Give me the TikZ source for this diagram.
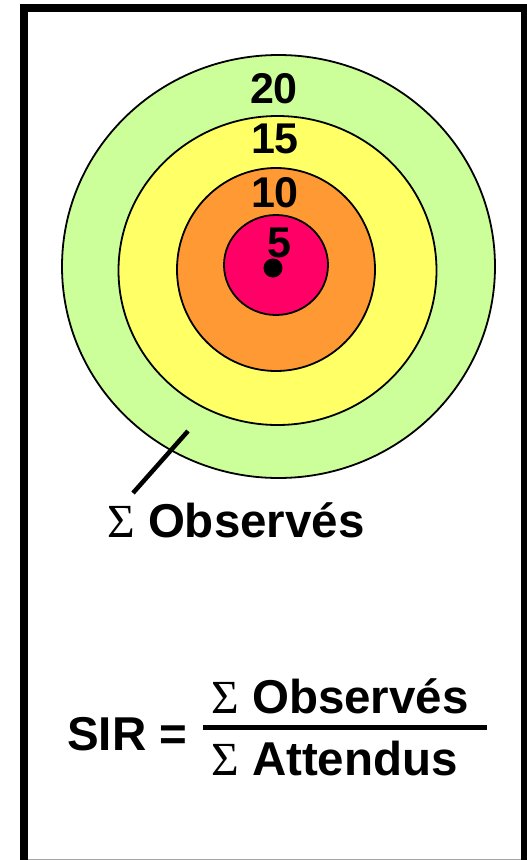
\documentclass[tikz,border=0pt]{standalone}
\usepackage{fontspec}
\setmainfont{Liberation Sans}
\newfontfamily\sigfont{Liberation Serif}
\definecolor{ringgreen}{HTML}{CCFF99}
\definecolor{ringyellow}{HTML}{FFFF66}
\definecolor{ringorange}{HTML}{FF9933}
\definecolor{ringpink}{HTML}{FF0066}
\newcommand{\sigmasym}{{\sigfont\mdseries\char"03A3}}
\tikzset{
  ring/.style={draw=black, line width=1.8pt},
  digit/.style={font=\fontsize{43}{43}\selectfont\bfseries, anchor=base, inner sep=0pt},
  bigtext/.style={font=\fontsize{47.5}{47.5}\selectfont\bfseries, anchor=base west, inner sep=0pt},
}
\begin{document}
\begin{tikzpicture}[x=1pt, y=-1pt]
\useasboundingbox (0,0) rectangle (527,860);
\begin{scope}
\clip (0,0) rectangle (527,860);
\draw[line width=8pt] (24,8) -- (525,8);
\draw[line width=8pt] (24,4) -- (24,870);
\draw[line width=8pt] (525,4) -- (525,870);
\draw[gray!70, line width=1pt] (28,859) -- (521,859);
\end{scope}
% rings
\fill[ringgreen, ring] (278.5,266.5) ellipse [x radius=216.5, y radius=211.5];
\fill[ringyellow, ring] (277.5,270.5) ellipse [x radius=159, y radius=154.5];
\fill[ringorange, ring] (276,269.5) ellipse [x radius=99, y radius=101.5];
\fill[ringpink, ring] (276,265) ellipse [x radius=52, y radius=50];
\fill[black] (273,268) circle [radius=9.5];
% labels
\node[digit] (n20) at (274,103) {20};
\node[digit] (n15) at (275,153) {15};
\node[digit] (n10) at (275,207) {10};
\node[digit] (n5) at (279,257) {5};
% leader
\coordinate (ringpt) at (188,431);
\coordinate (labelpt) at (133,493);
\draw[line width=4.5pt] (ringpt) -- (labelpt);
\node[bigtext] (obs) at (107,537) {\sigmasym\ Observés};
% formula
\node[bigtext] (sir) at (67,750) {SIR =};
\node[bigtext] (num) at (211,713) {\sigmasym\ Observés};
\node[bigtext] (den) at (211,775) {\sigmasym\ Attendus};
\coordinate (barL) at (203,727);
\coordinate (barR) at (487,727);
\draw[line width=5pt] (barL) -- (barR);
\end{tikzpicture}
\end{document}
